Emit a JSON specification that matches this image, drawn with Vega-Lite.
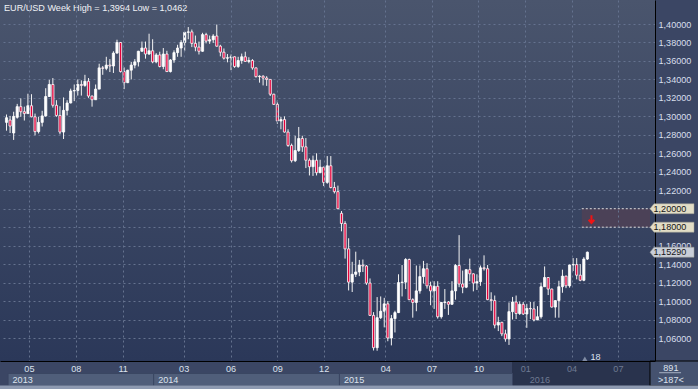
{
  "$schema": "https://vega.github.io/schema/vega-lite/v6.json",
  "width": 655,
  "height": 361,
  "autosize": {"type": "none"},
  "padding": {"left": 0, "top": 0, "right": 43, "bottom": 28},
  "background": "#3b4664",
  "config": {
    "font": "Liberation Sans",
    "view": {"stroke": null, "fill": {"gradient": "linear", "x1": 0, "y1": 0, "x2": 0, "y2": 1, "stops": [{"offset": 0, "color": "#4a556d"}, {"offset": 1, "color": "#2b3859"}]}}
  },
  "title": {"text": "EUR/USD Week High = 1,3994 Low = 1,0462", "anchor": "start", "frame": "group", "offset": -12, "baseline": "alphabetic", "dx": 4, "dy": 8.5, "fontSize": 9.1, "fontWeight": "normal", "color": "#f0f2f6", "font": "Liberation Sans"},
  "datasets": {
    "candles": [
      {"d":"2013-03-18","o":1.2935,"h":1.3020,"l":1.2845,"c":1.2985},
      {"d":"2013-03-25","o":1.2960,"h":1.3005,"l":1.2820,"c":1.2895},
      {"d":"2013-04-01","o":1.2820,"h":1.3050,"l":1.2745,"c":1.3000},
      {"d":"2013-04-08","o":1.2990,"h":1.3135,"l":1.2975,"c":1.3105},
      {"d":"2013-04-15","o":1.3105,"h":1.3195,"l":1.2995,"c":1.3050},
      {"d":"2013-04-22","o":1.3050,"h":1.3105,"l":1.2955,"c":1.3030},
      {"d":"2013-04-29","o":1.3030,"h":1.3245,"l":1.3030,"c":1.3115},
      {"d":"2013-05-06","o":1.3115,"h":1.3240,"l":1.2990,"c":1.2995},
      {"d":"2013-05-13","o":1.2995,"h":1.3030,"l":1.2795,"c":1.2835},
      {"d":"2013-05-20","o":1.2835,"h":1.2995,"l":1.2815,"c":1.2935},
      {"d":"2013-05-27","o":1.2935,"h":1.3060,"l":1.2890,"c":1.3005},
      {"d":"2013-06-03","o":1.3005,"h":1.3305,"l":1.2995,"c":1.3215},
      {"d":"2013-06-10","o":1.3215,"h":1.3395,"l":1.3210,"c":1.3345},
      {"d":"2013-06-17","o":1.3345,"h":1.3415,"l":1.3095,"c":1.3120},
      {"d":"2013-06-24","o":1.3120,"h":1.3175,"l":1.2995,"c":1.3010},
      {"d":"2013-07-01","o":1.3010,"h":1.3110,"l":1.2805,"c":1.2830},
      {"d":"2013-07-08","o":1.2830,"h":1.3205,"l":1.2755,"c":1.3065},
      {"d":"2013-07-15","o":1.3065,"h":1.3175,"l":1.3010,"c":1.3145},
      {"d":"2013-07-22","o":1.3145,"h":1.3300,"l":1.3140,"c":1.3275},
      {"d":"2013-07-29","o":1.3275,"h":1.3345,"l":1.3165,"c":1.3280},
      {"d":"2013-08-05","o":1.3280,"h":1.3400,"l":1.3225,"c":1.3345},
      {"d":"2013-08-12","o":1.3345,"h":1.3390,"l":1.3225,"c":1.3335},
      {"d":"2013-08-19","o":1.3335,"h":1.3450,"l":1.3320,"c":1.3380},
      {"d":"2013-08-26","o":1.3380,"h":1.3415,"l":1.3200,"c":1.3220},
      {"d":"2013-09-02","o":1.3220,"h":1.3225,"l":1.3105,"c":1.3180},
      {"d":"2013-09-09","o":1.3180,"h":1.3345,"l":1.3180,"c":1.3295},
      {"d":"2013-09-16","o":1.3295,"h":1.3570,"l":1.3295,"c":1.3525},
      {"d":"2013-09-23","o":1.3525,"h":1.3545,"l":1.3450,"c":1.3520},
      {"d":"2013-09-30","o":1.3520,"h":1.3645,"l":1.3500,"c":1.3555},
      {"d":"2013-10-07","o":1.3555,"h":1.3620,"l":1.3480,"c":1.3545},
      {"d":"2013-10-14","o":1.3545,"h":1.3705,"l":1.3470,"c":1.3685},
      {"d":"2013-10-21","o":1.3685,"h":1.3830,"l":1.3680,"c":1.3800},
      {"d":"2013-10-28","o":1.3800,"h":1.3805,"l":1.3475,"c":1.3485},
      {"d":"2013-11-04","o":1.3485,"h":1.3530,"l":1.3295,"c":1.3365},
      {"d":"2013-11-11","o":1.3365,"h":1.3505,"l":1.3360,"c":1.3500},
      {"d":"2013-11-18","o":1.3500,"h":1.3590,"l":1.3400,"c":1.3555},
      {"d":"2013-11-25","o":1.3555,"h":1.3620,"l":1.3520,"c":1.3590},
      {"d":"2013-12-02","o":1.3590,"h":1.3710,"l":1.3540,"c":1.3705},
      {"d":"2013-12-09","o":1.3705,"h":1.3810,"l":1.3700,"c":1.3740},
      {"d":"2013-12-16","o":1.3740,"h":1.3810,"l":1.3625,"c":1.3675},
      {"d":"2013-12-23","o":1.3675,"h":1.3895,"l":1.3665,"c":1.3710},
      {"d":"2013-12-30","o":1.3710,"h":1.3835,"l":1.3575,"c":1.3590},
      {"d":"2014-01-06","o":1.3590,"h":1.3685,"l":1.3575,"c":1.3665},
      {"d":"2014-01-13","o":1.3665,"h":1.3700,"l":1.3530,"c":1.3540},
      {"d":"2014-01-20","o":1.3540,"h":1.3740,"l":1.3510,"c":1.3675},
      {"d":"2014-01-27","o":1.3675,"h":1.3710,"l":1.3480,"c":1.3485},
      {"d":"2014-02-03","o":1.3485,"h":1.3620,"l":1.3475,"c":1.3610},
      {"d":"2014-02-10","o":1.3610,"h":1.3715,"l":1.3580,"c":1.3690},
      {"d":"2014-02-17","o":1.3690,"h":1.3775,"l":1.3645,"c":1.3740},
      {"d":"2014-02-24","o":1.3740,"h":1.3825,"l":1.3645,"c":1.3800},
      {"d":"2014-03-03","o":1.3800,"h":1.3915,"l":1.3710,"c":1.3910},
      {"d":"2014-03-10","o":1.3910,"h":1.3967,"l":1.3835,"c":1.3915},
      {"d":"2014-03-17","o":1.3915,"h":1.3940,"l":1.3750,"c":1.3790},
      {"d":"2014-03-24","o":1.3790,"h":1.3875,"l":1.3705,"c":1.3750},
      {"d":"2014-03-31","o":1.3750,"h":1.3810,"l":1.3670,"c":1.3705},
      {"d":"2014-04-07","o":1.3705,"h":1.3905,"l":1.3700,"c":1.3885},
      {"d":"2014-04-14","o":1.3885,"h":1.3905,"l":1.3790,"c":1.3815},
      {"d":"2014-04-21","o":1.3815,"h":1.3875,"l":1.3785,"c":1.3830},
      {"d":"2014-04-28","o":1.3830,"h":1.3890,"l":1.3795,"c":1.3870},
      {"d":"2014-05-05","o":1.3870,"h":1.3994,"l":1.3755,"c":1.3760},
      {"d":"2014-05-12","o":1.3760,"h":1.3775,"l":1.3650,"c":1.3695},
      {"d":"2014-05-19","o":1.3695,"h":1.3735,"l":1.3615,"c":1.3630},
      {"d":"2014-05-26","o":1.3630,"h":1.3675,"l":1.3585,"c":1.3635},
      {"d":"2014-06-02","o":1.3635,"h":1.3670,"l":1.3500,"c":1.3645},
      {"d":"2014-06-09","o":1.3645,"h":1.3650,"l":1.3525,"c":1.3540},
      {"d":"2014-06-16","o":1.3540,"h":1.3645,"l":1.3525,"c":1.3605},
      {"d":"2014-06-23","o":1.3605,"h":1.3680,"l":1.3570,"c":1.3645},
      {"d":"2014-06-30","o":1.3645,"h":1.3700,"l":1.3590,"c":1.3595},
      {"d":"2014-07-07","o":1.3595,"h":1.3640,"l":1.3575,"c":1.3605},
      {"d":"2014-07-14","o":1.3605,"h":1.3620,"l":1.3505,"c":1.3525},
      {"d":"2014-07-21","o":1.3525,"h":1.3530,"l":1.3420,"c":1.3430},
      {"d":"2014-07-28","o":1.3430,"h":1.3445,"l":1.3365,"c":1.3435},
      {"d":"2014-08-04","o":1.3435,"h":1.3445,"l":1.3335,"c":1.3415},
      {"d":"2014-08-11","o":1.3415,"h":1.3435,"l":1.3330,"c":1.3400},
      {"d":"2014-08-18","o":1.3400,"h":1.3400,"l":1.3220,"c":1.3240},
      {"d":"2014-08-25","o":1.3240,"h":1.3245,"l":1.3125,"c":1.3130},
      {"d":"2014-09-01","o":1.3130,"h":1.3170,"l":1.2920,"c":1.2950},
      {"d":"2014-09-08","o":1.2950,"h":1.2995,"l":1.2860,"c":1.2965},
      {"d":"2014-09-15","o":1.2965,"h":1.3000,"l":1.2825,"c":1.2830},
      {"d":"2014-09-22","o":1.2830,"h":1.2860,"l":1.2670,"c":1.2685},
      {"d":"2014-09-29","o":1.2685,"h":1.2705,"l":1.2500,"c":1.2520},
      {"d":"2014-10-06","o":1.2520,"h":1.2790,"l":1.2505,"c":1.2630},
      {"d":"2014-10-13","o":1.2630,"h":1.2885,"l":1.2615,"c":1.2760},
      {"d":"2014-10-20","o":1.2760,"h":1.2790,"l":1.2615,"c":1.2670},
      {"d":"2014-10-27","o":1.2670,"h":1.2765,"l":1.2440,"c":1.2525},
      {"d":"2014-11-03","o":1.2525,"h":1.2545,"l":1.2360,"c":1.2455},
      {"d":"2014-11-10","o":1.2455,"h":1.2575,"l":1.2355,"c":1.2525},
      {"d":"2014-11-17","o":1.2525,"h":1.2600,"l":1.2360,"c":1.2390},
      {"d":"2014-11-24","o":1.2390,"h":1.2530,"l":1.2385,"c":1.2450},
      {"d":"2014-12-01","o":1.2450,"h":1.2455,"l":1.2245,"c":1.2285},
      {"d":"2014-12-08","o":1.2285,"h":1.2570,"l":1.2270,"c":1.2465},
      {"d":"2014-12-15","o":1.2465,"h":1.2570,"l":1.2220,"c":1.2230},
      {"d":"2014-12-22","o":1.2230,"h":1.2290,"l":1.2165,"c":1.2185},
      {"d":"2014-12-29","o":1.2185,"h":1.2250,"l":1.1995,"c":1.2000},
      {"d":"2015-01-05","o":1.1950,"h":1.1975,"l":1.1755,"c":1.1840},
      {"d":"2015-01-12","o":1.1840,"h":1.1865,"l":1.1460,"c":1.1565},
      {"d":"2015-01-19","o":1.1565,"h":1.1680,"l":1.1115,"c":1.1205},
      {"d":"2015-01-26","o":1.1205,"h":1.1425,"l":1.1098,"c":1.1290},
      {"d":"2015-02-02","o":1.1290,"h":1.1535,"l":1.1260,"c":1.1315},
      {"d":"2015-02-09","o":1.1315,"h":1.1445,"l":1.1270,"c":1.1390},
      {"d":"2015-02-16","o":1.1390,"h":1.1450,"l":1.1315,"c":1.1380},
      {"d":"2015-02-23","o":1.1380,"h":1.1390,"l":1.1175,"c":1.1195},
      {"d":"2015-03-02","o":1.1195,"h":1.1245,"l":1.0840,"c":1.0845},
      {"d":"2015-03-09","o":1.0845,"h":1.0880,"l":1.0465,"c":1.0495},
      {"d":"2015-03-16","o":1.0495,"h":1.1043,"l":1.0462,"c":1.0820},
      {"d":"2015-03-23","o":1.0820,"h":1.1050,"l":1.0805,"c":1.0890},
      {"d":"2015-03-30","o":1.0890,"h":1.1035,"l":1.0715,"c":1.0970},
      {"d":"2015-04-06","o":1.0970,"h":1.1000,"l":1.0565,"c":1.0600},
      {"d":"2015-04-13","o":1.0600,"h":1.0850,"l":1.0520,"c":1.0810},
      {"d":"2015-04-20","o":1.0810,"h":1.0895,"l":1.0660,"c":1.0875},
      {"d":"2015-04-27","o":1.0875,"h":1.1290,"l":1.0870,"c":1.1200},
      {"d":"2015-05-04","o":1.1200,"h":1.1390,"l":1.1050,"c":1.1205},
      {"d":"2015-05-11","o":1.1205,"h":1.1465,"l":1.1130,"c":1.1450},
      {"d":"2015-05-18","o":1.1450,"h":1.1460,"l":1.1010,"c":1.1015},
      {"d":"2015-05-25","o":1.1015,"h":1.1030,"l":1.0820,"c":1.0985},
      {"d":"2015-06-01","o":1.0985,"h":1.1385,"l":1.0890,"c":1.1110},
      {"d":"2015-06-08","o":1.1110,"h":1.1385,"l":1.1080,"c":1.1265},
      {"d":"2015-06-15","o":1.1265,"h":1.1435,"l":1.1190,"c":1.1350},
      {"d":"2015-06-22","o":1.1350,"h":1.1410,"l":1.1135,"c":1.1165},
      {"d":"2015-06-29","o":1.1165,"h":1.1210,"l":1.0955,"c":1.1110},
      {"d":"2015-07-06","o":1.1110,"h":1.1215,"l":1.0915,"c":1.1160},
      {"d":"2015-07-13","o":1.1160,"h":1.1215,"l":1.0810,"c":1.0830},
      {"d":"2015-07-20","o":1.0830,"h":1.0990,"l":1.0810,"c":1.0985},
      {"d":"2015-07-27","o":1.0985,"h":1.1130,"l":1.0915,"c":1.0990},
      {"d":"2015-08-03","o":1.0990,"h":1.1000,"l":1.0850,"c":1.0965},
      {"d":"2015-08-10","o":1.0965,"h":1.1215,"l":1.0960,"c":1.1110},
      {"d":"2015-08-17","o":1.1110,"h":1.1400,"l":1.1015,"c":1.1385},
      {"d":"2015-08-24","o":1.1385,"h":1.1714,"l":1.1150,"c":1.1185},
      {"d":"2015-08-31","o":1.1185,"h":1.1330,"l":1.1085,"c":1.1150},
      {"d":"2015-09-07","o":1.1150,"h":1.1345,"l":1.1140,"c":1.1340},
      {"d":"2015-09-14","o":1.1340,"h":1.1460,"l":1.1215,"c":1.1295},
      {"d":"2015-09-21","o":1.1295,"h":1.1300,"l":1.1105,"c":1.1195},
      {"d":"2015-09-28","o":1.1195,"h":1.1290,"l":1.1120,"c":1.1210},
      {"d":"2015-10-05","o":1.1210,"h":1.1385,"l":1.1165,"c":1.1360},
      {"d":"2015-10-12","o":1.1360,"h":1.1495,"l":1.1330,"c":1.1350},
      {"d":"2015-10-19","o":1.1350,"h":1.1390,"l":1.1010,"c":1.1015},
      {"d":"2015-10-26","o":1.1015,"h":1.1095,"l":1.0895,"c":1.1005},
      {"d":"2015-11-02","o":1.1005,"h":1.1060,"l":1.0705,"c":1.0740},
      {"d":"2015-11-09","o":1.0740,"h":1.0830,"l":1.0675,"c":1.0770},
      {"d":"2015-11-16","o":1.0770,"h":1.0775,"l":1.0620,"c":1.0645},
      {"d":"2015-11-23","o":1.0645,"h":1.0690,"l":1.0560,"c":1.0590},
      {"d":"2015-11-30","o":1.0590,"h":1.0985,"l":1.0525,"c":1.0885},
      {"d":"2015-12-07","o":1.0885,"h":1.1045,"l":1.0800,"c":1.0990},
      {"d":"2015-12-14","o":1.0990,"h":1.1060,"l":1.0805,"c":1.0865},
      {"d":"2015-12-21","o":1.0865,"h":1.0995,"l":1.0850,"c":1.0965},
      {"d":"2015-12-28","o":1.0965,"h":1.0990,"l":1.0850,"c":1.0860},
      {"d":"2016-01-04","o":1.0860,"h":1.0970,"l":1.0710,"c":1.0920},
      {"d":"2016-01-11","o":1.0920,"h":1.0990,"l":1.0805,"c":1.0915},
      {"d":"2016-01-18","o":1.0915,"h":1.0990,"l":1.0780,"c":1.0795},
      {"d":"2016-01-25","o":1.0795,"h":1.0945,"l":1.0795,"c":1.0830},
      {"d":"2016-02-01","o":1.0830,"h":1.1200,"l":1.0810,"c":1.1155},
      {"d":"2016-02-08","o":1.1155,"h":1.1375,"l":1.1155,"c":1.1255},
      {"d":"2016-02-15","o":1.1255,"h":1.1260,"l":1.1065,"c":1.1130},
      {"d":"2016-02-22","o":1.1130,"h":1.1135,"l":1.0930,"c":1.0935},
      {"d":"2016-02-29","o":1.0935,"h":1.1010,"l":1.0820,"c":1.1005},
      {"d":"2016-03-07","o":1.1005,"h":1.1220,"l":1.0820,"c":1.1155},
      {"d":"2016-03-14","o":1.1155,"h":1.1340,"l":1.1090,"c":1.1270},
      {"d":"2016-03-21","o":1.1270,"h":1.1275,"l":1.1140,"c":1.1165},
      {"d":"2016-03-28","o":1.1165,"h":1.1395,"l":1.1145,"c":1.1390},
      {"d":"2016-04-04","o":1.1390,"h":1.1465,"l":1.1325,"c":1.1395},
      {"d":"2016-04-11","o":1.1395,"h":1.1465,"l":1.1235,"c":1.1280},
      {"d":"2016-04-18","o":1.1280,"h":1.1400,"l":1.1215,"c":1.1225},
      {"d":"2016-04-25","o":1.1225,"h":1.1475,"l":1.1215,"c":1.1455},
      {"d":"2016-05-02","o":1.1455,"h":1.1536,"l":1.1445,"c":1.1529}
    ],
    "panels": [
      {"d":"2015-12-07","d2":"2016-09-02","v":1.0351,"v2":1.00802,"fill":"#29334d","stroke":"#29334d"},
      {"d":"2013-03-21","d2":"2014-01-01","v":1.02156,"v2":1.00802,"fill":"#505e7a","stroke":"#3a4662"},
      {"d":"2014-01-01","d2":"2015-01-01","v":1.02156,"v2":1.00802,"fill":"#505e7a","stroke":"#3a4662"},
      {"d":"2015-01-01","d2":"2015-12-07","v":1.02156,"v2":1.00802,"fill":"#505e7a","stroke":"#3a4662"},
      {"d":"2016-09-02","d2":"2016-12-15","v":1.0351,"v2":1.00802,"fill":"#45526f","stroke":"#000000"},
      {"d":"2013-03-01","d2":"2016-12-15","v":1.00802,"v2":1.0053,"fill":"#8e9ab1","stroke":"#8e9ab1"}
    ],
    "zone": [{"d":"2016-04-21","d2":"2016-09-02","v":1.18,"v2":1.20}],
    "zonelines": [
      {"d":"2016-04-21","d2":"2016-09-06","v":1.20},
      {"d":"2016-04-21","d2":"2016-09-06","v":1.18}
    ],
    "tags": [
      {"d":"2016-09-02","v":1.20,"label":"1,20000","fill":"#e2ddc6"},
      {"d":"2016-09-02","v":1.18,"label":"1,18000","fill":"#e2ddc6"},
      {"d":"2016-09-02","v":1.1529,"label":"1,15290","fill":"#c9ced8"}
    ],
    "years": [
      {"d":"2013-03-21","v":1.01452,"t":"2013","col":"#dce2ee"},
      {"d":"2014-01-01","v":1.01452,"t":"2014","col":"#dce2ee"},
      {"d":"2015-01-01","v":1.01452,"t":"2015","col":"#dce2ee"},
      {"d":"2016-01-01","v":1.01452,"t":"2016","col":"#6f7a92"}
    ],
    "notes": [
      {"d":"2016-10-13","v":1.02784,"t":"891"},
      {"d":"2016-10-13","v":1.01452,"t":">187<"},
      {"d":"2016-05-18","v":1.0398,"t":"18"}
    ],
    "arrow": [{"d":"2016-05-10","v":1.1885}],
    "marker": [{"d":"2016-04-27","v":1.0375}],
    "sep": [{"d":"2016-09-20","d2":"2016-11-02","v":1.0224}]
  },
  "layer": [
    {
      "data": {"name": "candles"},
      "mark": {"type": "rule", "color": "#f4f4f4", "strokeWidth": 1},
      "encoding": {
        "x": {
          "field": "d", "type": "temporal", "title": null,
          "scale": {"type": "utc", "domain": [{"year": 2013, "month": 3, "date": 15, "utc": true}, {"year": 2016, "month": 9, "date": 2, "utc": true}]},
          "axis": {
            "orient": "bottom",
            "values": [
              {"year": 2013, "month": 5, "date": 1, "utc": true},
              {"year": 2013, "month": 8, "date": 1, "utc": true},
              {"year": 2013, "month": 11, "date": 1, "utc": true},
              {"year": 2014, "month": 3, "date": 1, "utc": true},
              {"year": 2014, "month": 6, "date": 1, "utc": true},
              {"year": 2014, "month": 9, "date": 1, "utc": true},
              {"year": 2014, "month": 12, "date": 1, "utc": true},
              {"year": 2015, "month": 4, "date": 1, "utc": true},
              {"year": 2015, "month": 7, "date": 1, "utc": true},
              {"year": 2015, "month": 10, "date": 1, "utc": true},
              {"year": 2016, "month": 1, "date": 1, "utc": true},
              {"year": 2016, "month": 4, "date": 1, "utc": true},
              {"year": 2016, "month": 7, "date": 1, "utc": true}
            ],
            "tickCount": 30,
            "labelExpr": "utcFormat(datum.value, '%m')",
            "domainColor": "#000000",
            "domainWidth": 1,
            "ticks": false,
            "tickSize": 0,
            "labelPadding": 7,
            "labelBaseline": "middle",
            "labelAlign": "center",
            "labelFontSize": 9.1,
            "labelFont": "Liberation Sans",
            "labelColor": {"condition": {"test": "datum.value >= 1449446400000", "value": "#707b93"}, "value": "#dce2ee"},
            "labelOverlap": false,
            "labelBound": false,
            "labelFlush": false,
            "grid": true,
            "gridColor": "#65728f",
            "gridDash": [2, 3],
            "gridWidth": 1,
            "zindex": 1
          }
        },
        "y": {
          "field": "l", "type": "quantitative", "title": null,
          "scale": {"domain": [1.0351, 1.426], "zero": false, "nice": false},
          "axis": {
            "orient": "right",
            "values": [1.06, 1.08, 1.10, 1.12, 1.14, 1.16, 1.18, 1.20, 1.22, 1.24, 1.26, 1.28, 1.30, 1.32, 1.34, 1.36, 1.38, 1.40],
            "tickCount": 40,
            "labelExpr": "(datum.value > 1.17 && datum.value < 1.21) ? '' : replace(format(datum.value, '.5f'), '.', ',')",
            "domainColor": "#000000",
            "domainWidth": 1,
            "ticks": false,
            "tickSize": 0,
            "labelPadding": 3,
            "labelAlign": "left",
            "labelBaseline": "middle",
            "labelFontSize": 9.1,
            "labelFont": "Liberation Sans",
            "labelColor": "#d8dfec",
            "labelOverlap": false,
            "labelBound": false,
            "labelFlush": false,
            "grid": true,
            "gridColor": "#65728f",
            "gridDash": [2, 3],
            "gridWidth": 1
          }
        },
        "y2": {"field": "h"}
      }
    },
    {
      "data": {"name": "candles"},
      "mark": {"type": "bar", "width": 2.2, "stroke": "#ffffff", "strokeWidth": 0.8},
      "encoding": {
        "x": {"field": "d", "type": "temporal", "title": null},
        "y": {"field": "o", "type": "quantitative", "title": null},
        "y2": {"field": "c"},
        "fill": {"condition": {"test": "datum.c >= datum.o", "value": "#ffffff"}, "value": "#e4003a"}
      }
    },
    {
      "data": {"name": "panels"},
      "mark": {"type": "rect", "strokeWidth": 1},
      "encoding": {
        "x": {"field": "d", "type": "temporal", "title": null},
        "x2": {"field": "d2"},
        "y": {"field": "v", "type": "quantitative", "title": null},
        "y2": {"field": "v2"},
        "fill": {"field": "fill", "type": "nominal", "scale": null},
        "stroke": {"field": "stroke", "type": "nominal", "scale": null}
      }
    },
    {
      "data": {"name": "zone"},
      "mark": {"type": "rect", "color": "#4b4157"},
      "encoding": {
        "x": {"field": "d", "type": "temporal", "title": null},
        "x2": {"field": "d2"},
        "y": {"field": "v", "type": "quantitative", "title": null},
        "y2": {"field": "v2"}
      }
    },
    {
      "data": {"name": "zonelines"},
      "mark": {"type": "rule", "color": "#dcdcdc", "strokeDash": [2, 2], "strokeWidth": 1},
      "encoding": {
        "x": {"field": "d", "type": "temporal", "title": null},
        "x2": {"field": "d2"},
        "y": {"field": "v", "type": "quantitative", "title": null}
      }
    },
    {
      "data": {"name": "tags"},
      "mark": {"type": "point", "shape": "M0,0 L0.4,-0.5 L4.4,-0.5 L4.4,0.5 L0.4,0.5 Z", "size": 400, "filled": true, "opacity": 1, "stroke": "#9a9a90", "strokeWidth": 0.5},
      "encoding": {
        "x": {"field": "d", "type": "temporal", "title": null},
        "y": {"field": "v", "type": "quantitative", "title": null},
        "fill": {"field": "fill", "type": "nominal", "scale": null}
      }
    },
    {
      "data": {"name": "tags"},
      "mark": {"type": "text", "align": "left", "baseline": "middle", "dx": 3.5, "fontSize": 9.1, "font": "Liberation Sans", "color": "#151515"},
      "encoding": {
        "x": {"field": "d", "type": "temporal", "title": null},
        "y": {"field": "v", "type": "quantitative", "title": null},
        "text": {"field": "label"}
      }
    },
    {
      "data": {"name": "years"},
      "mark": {"type": "text", "align": "left", "baseline": "middle", "dx": 4.5, "fontSize": 9.1, "font": "Liberation Sans"},
      "encoding": {
        "x": {"field": "d", "type": "temporal", "title": null},
        "y": {"field": "v", "type": "quantitative", "title": null},
        "text": {"field": "t"},
        "color": {"field": "col", "type": "nominal", "scale": null}
      }
    },
    {
      "data": {"name": "notes"},
      "mark": {"type": "text", "align": "center", "baseline": "middle", "fontSize": 9.1, "font": "Liberation Sans", "color": "#dce2ee"},
      "encoding": {
        "x": {"field": "d", "type": "temporal", "title": null},
        "y": {"field": "v", "type": "quantitative", "title": null},
        "text": {"field": "t"}
      }
    },
    {
      "data": {"name": "sep"},
      "mark": {"type": "rule", "color": "#a7b1c5", "strokeWidth": 1},
      "encoding": {
        "x": {"field": "d", "type": "temporal", "title": null},
        "x2": {"field": "d2"},
        "y": {"field": "v", "type": "quantitative", "title": null}
      }
    },
    {
      "data": {"name": "marker"},
      "mark": {"type": "point", "shape": "triangle-up", "size": 30, "filled": true, "color": "#7f8ba3", "opacity": 1},
      "encoding": {
        "x": {"field": "d", "type": "temporal", "title": null},
        "y": {"field": "v", "type": "quantitative", "title": null}
      }
    },
    {
      "data": {"name": "arrow"},
      "mark": {"type": "point", "shape": "M0,-1 L0,0.8 M-0.7,0.1 L0,0.9 L0.7,0.1", "size": 64, "filled": false, "color": "#f01414", "strokeWidth": 2, "opacity": 1},
      "encoding": {
        "x": {"field": "d", "type": "temporal", "title": null},
        "y": {"field": "v", "type": "quantitative", "title": null}
      }
    }
  ]
}
